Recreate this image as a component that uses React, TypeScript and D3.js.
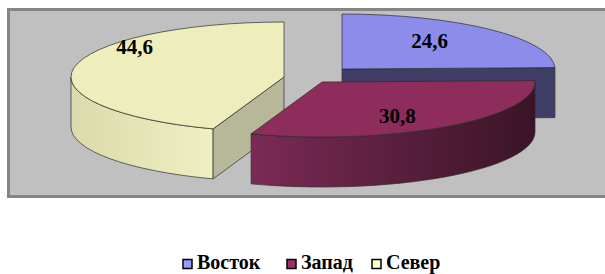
import * as d3 from "d3";

// данные диаграммы
const regions = ["Восток", "Запад", "Север"];
const shares = [24.6, 30.8, 44.6];
const valueLabels = ["24,6", "30,8", "44,6"];

// цвета: верх, срез, боковая стенка (градиент), легенда
const topColors = ["#8c8ceb", "#8e2d5b", "#eeeebc"];
const cutColors = ["#3e3e66", "#5a1d3a", "#b7b799"];
const wallColors = [
  ["#5a5a99", "#3e3e66"],
  ["#7b2a55", "#3a1426"],
  ["#dadaaa", "#efefc2"],
];
const legendColors = ["#9999ff", "#993366", "#ffffcc"];

// смещение выдвинутых секторов и подписей (px)
const explode = [
  [42, -8],
  [22, 5],
  [-16, 0],
];
const labelShift = [
  [-9, -3],
  [-6, 5],
  [-13, -24],
];
// позиции элементов легенды
const legendX = [183, 287, 372];

const W = 605;
const H = 274;
const FONT = "Liberation Serif";

const cx = 300;
const cy = 77;
const rx = 213;
const ry = 55;
const depth = 50;
const stroke = "#2b2b2b";

const App = () => {
  const arcs = d3
    .pie<number>()
    .sort(null)
    .startAngle(0)
    .endAngle(2 * Math.PI)(shares);

  const slices = arcs.map((a, i) => ({
    ...a,
    i,
    ox: cx + explode[i][0],
    oy: cy + explode[i][1],
    mid: (a.startAngle + a.endAngle) / 2,
  }));

  // сзади вперёд
  const order = [...slices].sort((a, b) => -Math.cos(a.mid) + Math.cos(b.mid));

  const faces = order.map((s) => {
    const pt = (t: number, dz = 0): [number, number] => [
      s.ox + rx * Math.sin(t),
      s.oy - ry * Math.cos(t) + dz,
    ];
    const parts: { d: string; fill: string }[] = [];

    // боковая стенка
    const a = Math.max(s.startAngle, Math.PI / 2);
    const b = Math.min(s.endAngle, (3 * Math.PI) / 2);
    if (a < b) {
      parts.push({
        d: `M${pt(a)}A${rx},${ry} 0 0 1 ${pt(b)}L${pt(b, depth)}A${rx},${ry} 0 0 0 ${pt(a, depth)}Z`,
        fill: `url(#wall-${s.i})`,
      });
    }

    // срезы
    const cut = (t: number, normal: number) => {
      if (Math.cos(normal) >= -1e-3) return;
      parts.push({
        d: `M${s.ox},${s.oy}L${pt(t)}L${pt(t, depth)}L${s.ox},${s.oy + depth}Z`,
        fill: cutColors[s.i],
      });
    };
    cut(s.startAngle, s.startAngle - Math.PI / 2);
    cut(s.endAngle, s.endAngle + Math.PI / 2);

    // верх
    const large = s.endAngle - s.startAngle > Math.PI ? 1 : 0;
    parts.push({
      d: `M${s.ox},${s.oy}L${pt(s.startAngle)}A${rx},${ry} 0 ${large} 1 ${pt(s.endAngle)}Z`,
      fill: topColors[s.i],
    });
    return { key: s.i, parts };
  });

  return (
    <svg
      width={W}
      height={H}
      style={{ position: "absolute", left: 0, top: 0, background: "#fff" }}
    >
      <defs>
        {wallColors.map((c, i) => (
          <linearGradient key={i} id={`wall-${i}`} x1="0" x2="1" y1="0" y2="0">
            <stop offset="0%" stopColor={c[0]} />
            <stop offset="100%" stopColor={c[1]} />
          </linearGradient>
        ))}
      </defs>

      <rect
        x={8.5}
        y={9.5}
        width={600}
        height={187}
        fill="#c0c0c0"
        stroke="#858585"
        strokeWidth={3}
      />

      {faces.map((f) => (
        <g key={f.key}>
          {f.parts.map((p, j) => (
            <path key={j} d={p.d} fill={p.fill} stroke={stroke} strokeWidth={0.7} />
          ))}
        </g>
      ))}

      {slices.map((s) => (
        <text
          key={s.i}
          x={s.ox + 0.65 * rx * Math.sin(s.mid) + labelShift[s.i][0]}
          y={s.oy - 0.65 * ry * Math.cos(s.mid) + labelShift[s.i][1]}
          dy="0.35em"
          textAnchor="middle"
          fontFamily={FONT}
          fontWeight="bold"
          fontSize={21}
          fill="#000"
        >
          {valueLabels[s.i]}
        </text>
      ))}

      <g transform="translate(0,269)">
        {regions.map((r, i) => (
          <g key={r} transform={`translate(${legendX[i]},0)`}>
            <rect
              y={-9.5}
              width={9}
              height={9}
              fill={legendColors[i]}
              stroke="#000"
              strokeWidth={1.5}
            />
            <text x={14} fontFamily={FONT} fontWeight="bold" fontSize={20} fill="#000">
              {r}
            </text>
          </g>
        ))}
      </g>
    </svg>
  );
};

export default App;
